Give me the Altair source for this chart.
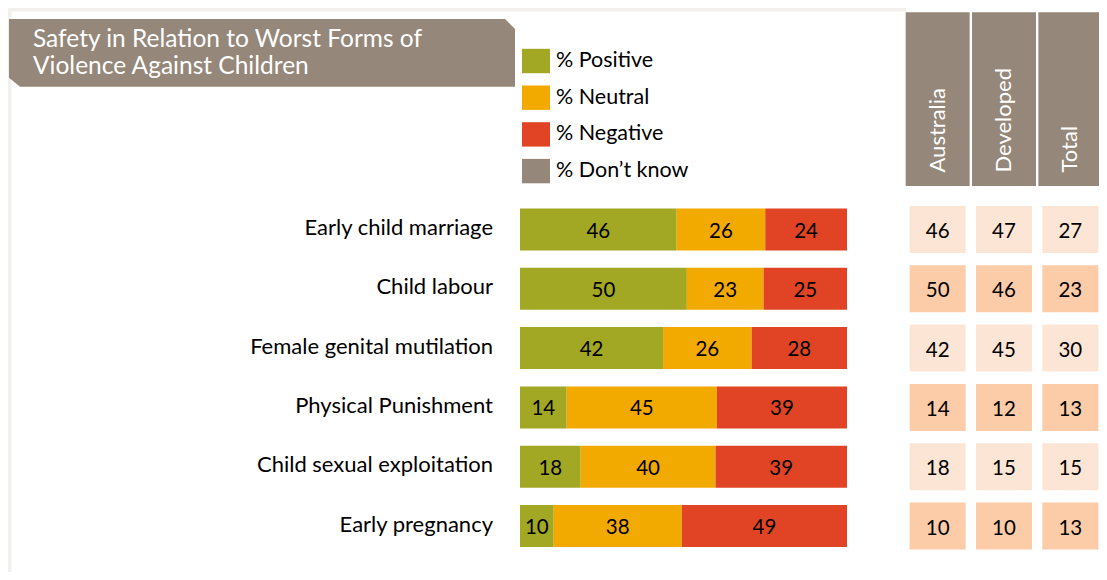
import altair as alt
import pandas as pd

# ---------------- data ----------------
categories = [
    "Early child marriage",
    "Child labour",
    "Female genital mutilation",
    "Physical Punishment",
    "Child sexual exploitation",
    "Early pregnancy",
]
positive = [46, 50, 42, 14, 18, 10]
neutral = [26, 23, 26, 45, 40, 38]
negative = [24, 25, 28, 39, 39, 49]

columns = ["Australia", "Developed", "Total"]
australia = [46, 50, 42, 14, 18, 10]
developed = [47, 46, 45, 12, 15, 10]
total_col = [27, 23, 30, 13, 15, 13]

legend_labels = ["% Positive", "% Neutral", "% Negative", "% Don\u2019t know"]
title_lines = ["Safety in Relation to Worst Forms of", "Violence Against Children"]

# ---------------- styling ----------------
FONT = "Lato"
colors = ["#A2A823", "#F2AA00", "#E04424", "#958779"]
BROWN = "#958779"
LIGHT = "#FDE5D5"
DARK = "#FCCBA7"
FRAME = "#F2F0ED"

# ---------------- tables built from the arrays ----------------
rows = []
for i, c in enumerate(categories):
    vals = [positive[i], neutral[i], negative[i]]
    tot = sum(vals)
    cum = 0
    for lab, v in zip(legend_labels[:3], vals):
        rows.append(dict(cat=c, resp=lab, value=v, start=cum / tot,
                         end=(cum + v) / tot, mid=(cum + v / 2) / tot))
        cum += v
bars_df = pd.DataFrame(rows)

trows = []
for series, col in zip([australia, developed, total_col], columns):
    for i, c in enumerate(categories):
        trows.append(dict(cat=c, col=col, value=series[i], shade=i % 2))
table_df = pd.DataFrame(trows)
cat_df = pd.DataFrame({"cat": categories})
head_df = pd.DataFrame({"col": columns})
one = pd.DataFrame({"k": [0]})

# ---------------- scales ----------------
x_bar = alt.Scale(domain=[0, 1], range=[512, 839], nice=False, zero=False)
y_bar = alt.Scale(domain=categories, range=[191.85, 547.65],
                  paddingInner=0.292, paddingOuter=0.146)
x_tab = alt.Scale(domain=columns, range=[896.5, 1095.5],
                  paddingInner=0.1558, paddingOuter=0.0779)
y_tab = alt.Scale(domain=categories, range=[191.85, 547.65],
                  paddingInner=0.2074, paddingOuter=0.1037)
color_scale = alt.Scale(domain=legend_labels, range=colors)

legend = alt.Legend(
    title=None, orient="none", legendX=514, legendY=39,
    symbolType="M-1,-0.871H1V0.871H-1Z", symbolSize=784,
    symbolStrokeWidth=0, symbolOpacity=1,
    labelFont=FONT, labelFontSize=21.5, labelColor="black",
    labelOffset=6, rowPadding=9.7, padding=0, labelLimit=400,
)

# ---------------- decoration ----------------
frame_left = alt.Chart(one).mark_rect(color=FRAME).encode(
    x=alt.value(0), x2=alt.value(3.5), y=alt.value(0), y2=alt.value(564))
frame_top = alt.Chart(one).mark_rect(color=FRAME).encode(
    x=alt.value(0), x2=alt.value(898), y=alt.value(0), y2=alt.value(3.5))

hw, hh = 253, 33.85
box_path = (f"M{-hw},{-hh}L{hw - 10},{-hh}L{hw},{-hh + 10}L{hw},{hh}"
            f"L{-hw + 11},{hh}L{-hw},{hh - 9}Z")
title_box = alt.Chart(one).mark_point(
    shape=box_path, size=4, filled=True, fill=BROWN, opacity=1, strokeWidth=0
).encode(x=alt.value(254), y=alt.value(44.85))

title_text = alt.Chart(one).mark_text(
    align="left", baseline="alphabetic", font=FONT, fontSize=24.5,
    lineHeight=27, color="white"
).encode(x=alt.value(25), y=alt.value(39), text=alt.value(title_lines))

# ---------------- bars ----------------
bars = alt.Chart(bars_df).mark_bar().encode(
    x=alt.X("start:Q", scale=x_bar, axis=None),
    x2="end:Q",
    y=alt.Y("cat:N", scale=y_bar, axis=None),
    color=alt.Color("resp:N", scale=color_scale, legend=legend),
)
bar_text = alt.Chart(bars_df).mark_text(
    font=FONT, fontSize=20.5, color="black", dy=2
).encode(
    x=alt.X("mid:Q", scale=x_bar, axis=None),
    y=alt.Y("cat:N", scale=y_bar, axis=None),
    text="value:Q",
)
cat_text = alt.Chart(cat_df).mark_text(
    font=FONT, fontSize=22, color="black", align="right", dy=-1.5
).encode(
    x=alt.value(485),
    y=alt.Y("cat:N", scale=y_bar, axis=None),
    text="cat:N",
)

# ---------------- table ----------------
headers = alt.Chart(head_df).mark_bar(width=64, color=BROWN).encode(
    x=alt.X("col:N", scale=x_tab, axis=None),
    y=alt.value(4.3), y2=alt.value(178),
)
header_text = alt.Chart(head_df).mark_text(
    angle=270, align="left", baseline="middle", font=FONT, fontSize=22,
    color="white"
).encode(
    x=alt.X("col:N", scale=x_tab, axis=None),
    y=alt.value(164.5),
    text="col:N",
)
cells = alt.Chart(table_df).mark_rect().encode(
    x=alt.X("col:N", scale=x_tab, axis=None),
    y=alt.Y("cat:N", scale=y_tab, axis=None),
    color=alt.condition("datum.shade == 1", alt.value(DARK), alt.value(LIGHT)),
)
cell_text = alt.Chart(table_df).mark_text(
    font=FONT, fontSize=20.5, color="black", dy=2.5
).encode(
    x=alt.X("col:N", scale=x_tab, axis=None),
    y=alt.Y("cat:N", scale=y_tab, axis=None),
    text="value:Q",
)

chart = alt.layer(
    frame_left, frame_top, title_box, title_text,
    bars, bar_text, cat_text,
    headers, header_text, cells, cell_text,
).resolve_scale(
    x="independent", y="independent"
).properties(
    width=1091, height=564, autosize="none", padding=0
).configure_view(stroke=None)

chart.save("out.html", embed_options={"renderer": "svg", "actions": False})
